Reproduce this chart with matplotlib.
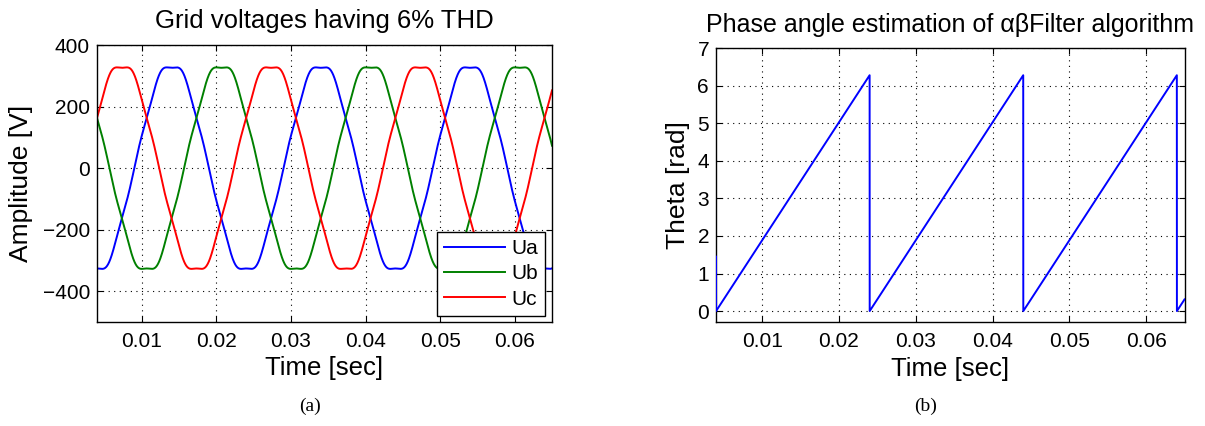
import numpy as np
import matplotlib
matplotlib.use("Agg")
import matplotlib.pyplot as plt

plt.rcParams['font.family'] = ['Liberation Sans', 'DejaVu Sans']

# Grid voltage model: 50 Hz fundamental plus 5th/7th harmonic content
grid_freq = 50.0
harmonic_orders = [1, 5, 7]
harmonic_amps = [338.0, -5.0, 7.0]          # volts
phase_names = ['Ua', 'Ub', 'Uc']
phase_colors = ['#0000ff', '#008000', '#ff0000']
phase_zero_cross = [0.009, 0.009 + 0.02 / 3, 0.009 - 0.02 / 3]   # rising zero crossing [s]

# Estimated phase angle: corner points of the sawtooth
theta_time = [0.0040, 0.00401, 0.0240, 0.02401, 0.0440, 0.04401, 0.0640, 0.06401, 0.0650]
theta_rad = [1.45, 0.0, 6.283, 0.0, 6.283, 0.0, 6.283, 0.0, 0.31]

x_ticks = [0.01, 0.02, 0.03, 0.04, 0.05, 0.06]
x_tick_labels = ['0.01', '0.02', '0.03', '0.04', '0.05', '0.06']
volt_ticks = [-400, -200, 0, 200, 400]
volt_tick_labels = ['\u2212400', '\u2212200', '0', '200', '400']
theta_ticks = [0, 1, 2, 3, 4, 5, 6, 7]

t = np.linspace(0.004, 0.065, 3000)
w = 2 * np.pi * grid_freq


def phase_voltage(t0):
    x = w * (t - t0)
    return sum(a * np.sin(h * x) for h, a in zip(harmonic_orders, harmonic_amps))


fig = plt.figure(figsize=(12.05, 4.26), dpi=100)
ax1 = fig.add_axes([0.0805, 0.2441, 0.3776, 0.6502])
ax2 = fig.add_axes([0.5942, 0.2434, 0.3888, 0.6432])


def style_axes(ax):
    ax.grid(True, color='black', linestyle=(0, (1, 4)), linewidth=0.8)
    ax.tick_params(direction='in', top=True, right=True, length=4,
                   width=0.8, labelsize=15, pad=7)
    for s in ax.spines.values():
        s.set_linewidth(1.0)
    ax.set_xticks(x_ticks)
    ax.set_xticklabels(x_tick_labels)
    ax.set_xlim(0.004, 0.065)


for name, col, t0 in zip(phase_names, phase_colors, phase_zero_cross):
    ax1.plot(t, phase_voltage(t0), color=col, lw=1.4, label=name)
style_axes(ax1)
ax1.set_ylim(-500, 400)
ax1.set_yticks(volt_ticks)
ax1.set_yticklabels(volt_tick_labels)
ax1.tick_params(axis='y', pad=5)
ax1.set_title('Grid voltages having 6% THD', fontsize=18.5, pad=12)
ax1.set_xlabel('Time [sec]', fontsize=18.5, labelpad=4)
ax1.set_ylabel('Amplitude [V]', fontsize=19, labelpad=7)
leg = ax1.legend(loc='lower right', bbox_to_anchor=(0.9846, 0.0217), fancybox=False,
                 edgecolor='black', framealpha=1, fontsize=15, handlelength=2.9,
                 borderpad=0.35, labelspacing=0.3, handletextpad=0.3,
                 borderaxespad=0)
leg.get_frame().set_linewidth(1.0)

ax2.plot(theta_time, theta_rad, color='#0000ff', lw=1.4, zorder=3)
style_axes(ax2)
ax2.set_ylim(-0.3, 7)
ax2.set_yticks(theta_ticks)
ax2.tick_params(axis='y', pad=5)
ax2.set_title('Phase angle estimation of \u03b1\u03b2Filter algorithm', fontsize=18, pad=12)
ax2.set_xlabel('Time [sec]', fontsize=18.5, labelpad=4)
ax2.set_ylabel('Theta [rad]', fontsize=19, labelpad=5)

fig.text(0.2573, 0.035, '(a)', fontsize=14, family=['Liberation Serif', 'DejaVu Serif'], ha='center')
fig.text(0.7677, 0.035, '(b)', fontsize=14, family=['Liberation Serif', 'DejaVu Serif'], ha='center')

fig.savefig('out.png', dpi=100)
